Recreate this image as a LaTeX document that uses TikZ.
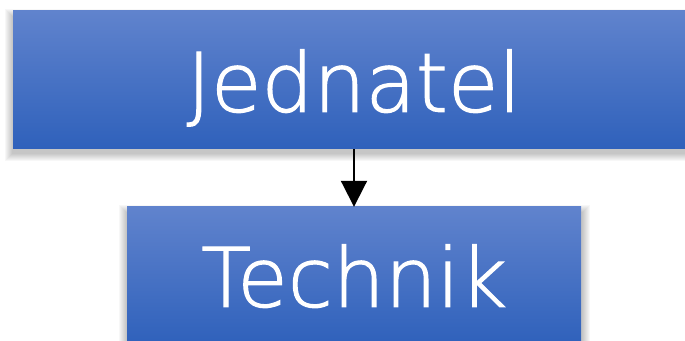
\documentclass[tikz,border=0pt]{standalone}
\usepackage{fontspec}
\setmainfont[RawFeature={embolden=1.4}]{DejaVu Sans ExtraLight}
\usetikzlibrary{arrows.meta,backgrounds}
\definecolor{boxtop}{RGB}{96,131,205}
\definecolor{boxbottom}{RGB}{47,97,187}
\begin{document}
\begin{tikzpicture}[x=1pt,y=1pt,
  orgbox/.style={rectangle, inner sep=0pt, top color=boxtop, bottom color=boxbottom,
    text=white, font=\fontsize{82}{98}\selectfont, text depth=0pt},
  link/.style={line width=2pt, -{Triangle[width=26pt,length=26pt]}}]
\useasboundingbox (0,0) rectangle (685,340);
% org chart boxes
\node[orgbox, minimum width=682pt, minimum height=138pt, text height=63.4pt] (jednatel) at (354,260) {Jednatel};
\node[orgbox, minimum width=454pt, minimum height=138pt, text height=61.4pt] (technik) at (354,64) {Technik};
% soft drop shadows, offset downwards
\begin{scope}[on background layer]
  \foreach \n in {jednatel,technik}{
    \foreach \r in {1,...,8}{
      \fill[black,opacity=0.032] ([shift={(-\r+0.5,\r-6)}]\n.north west) rectangle ([shift={(\r+0.5,-\r-4)}]\n.south east);
    }
  }
\end{scope}
% reporting line
\draw[link] (jednatel.south) -- (technik.north);
\end{tikzpicture}
\end{document}
